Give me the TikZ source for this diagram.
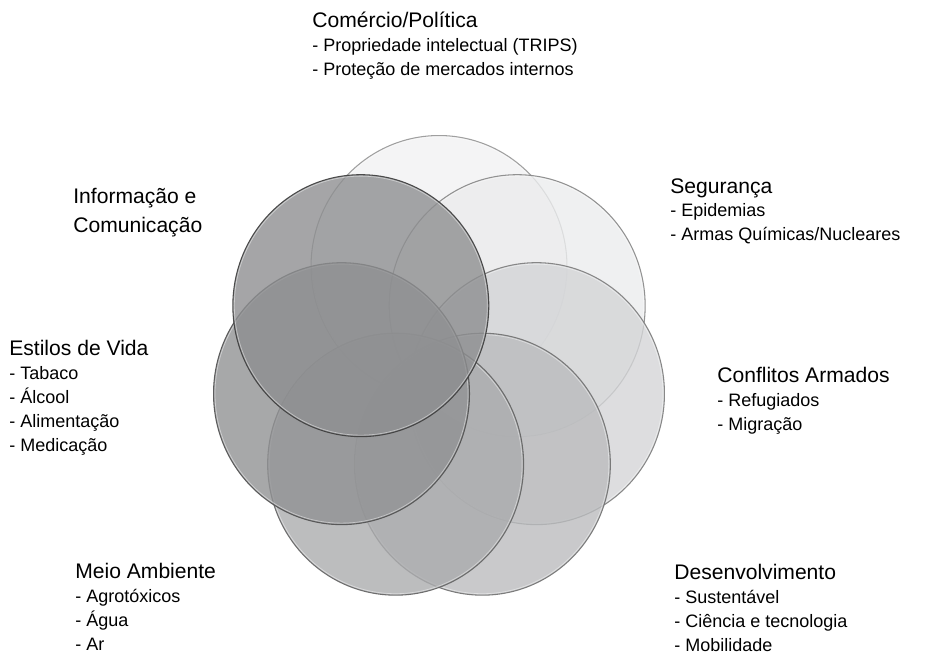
\documentclass[tikz,border=0pt]{standalone}
\usepackage{fontspec}
\setmainfont{Liberation Sans}

\definecolor{fillTop}{RGB}{241,241,242}
\definecolor{fillSeg}{RGB}{235,236,237}
\definecolor{fillCon}{RGB}{212,213,215}
\definecolor{fillDes}{RGB}{187,188,190}
\definecolor{fillMei}{RGB}{171,172,174}
\definecolor{fillEst}{RGB}{145,146,148}
\definecolor{fillInf}{RGB}{142,143,145}

\definecolor{lineTop}{RGB}{150,150,150}
\definecolor{lineSeg}{RGB}{135,135,135}
\definecolor{lineCon}{RGB}{125,125,125}
\definecolor{lineDes}{RGB}{112,112,112}
\definecolor{lineMei}{RGB}{98,98,98}
\definecolor{lineEst}{RGB}{80,80,80}
\definecolor{lineInf}{RGB}{60,60,60}

\newcommand{\headfont}{\fontsize{12}{16.4}\selectfont}
\newcommand{\itemfont}{\fontsize{10.25}{13.6}\selectfont}

\tikzset{
  ring/.style={line width=0.6pt, fill opacity=0.8, draw opacity=0.9},
  rim/.style={white, line width=0.4pt, opacity=0.45},
  topic/.style={anchor=north west, inner sep=0pt, align=left, font=\itemfont}
}

\begin{document}
\begin{tikzpicture}[x=0.02cm,y=-0.02cm]
\useasboundingbox (0,0) rectangle (927,656);

%Circles
\foreach \a/\c/\l in {90/fillTop/lineTop, 38.57/fillSeg/lineSeg, -12.86/fillCon/lineCon,
    -64.29/fillDes/lineDes, -115.71/fillMei/lineMei, -167.14/fillEst/lineEst, 141.43/fillInf/lineInf}
{
  \draw[ring, fill=\c, draw=\l] ({439+100*cos(\a)},{370.5-104*sin(\a)}) circle [x radius=2.56cm, y radius=2.62cm];
  \draw[rim] ({439+100*cos(\a)},{370.5-104*sin(\a)}) circle [x radius=2.53cm, y radius=2.59cm];
}

%Labels
\node[topic] (comercio) at (312,12) {{\headfont Comércio/Política}\\
  - Propriedade intelectual (TRIPS)\\
  - Proteção de mercados internos};
\node[topic] (seguranca) at (670,178) {{\headfont Segurança}\\
  - Epidemias\\
  - Armas Químicas/Nucleares};
\node[topic] (conflitos) at (717,367) {{\headfont Conflitos Armados}\\
  - Refugiados\\
  - Migração};
\node[topic] (desenv) at (674,564) {{\headfont Desenvolvimento}\\
  - Sustentável\\
  - Ciência e tecnologia\\
  - Mobilidade};
\node[topic] (meio) at (75,563) {{\headfont Meio Ambiente}\\
  - Agrotóxicos\\
  - Água\\
  - Ar};
\node[topic] (estilos) at (9,340) {{\headfont Estilos de Vida}\\
  - Tabaco\\
  - Álcool\\
  - Alimentação\\
  - Medicação};
\node[topic, font=\headfont] (informacao) at (73,188) {Informação e\\Comunicação};
\end{tikzpicture}
\end{document}
